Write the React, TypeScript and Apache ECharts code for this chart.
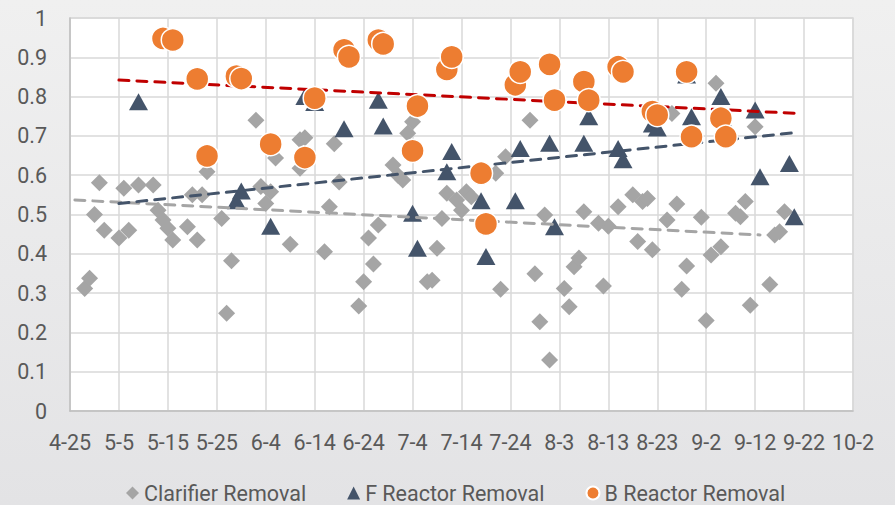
import React, { useEffect, useRef } from "react";
import * as echarts from "echarts";

// X-axis tick labels (every 10 days starting 4-25)
const tickLabels = ["4-25", "5-5", "5-15", "5-25", "6-4", "6-14", "6-24", "7-4", "7-14", "7-24", "8-3", "8-13", "8-23", "9-2", "9-12", "9-22", "10-2"];

const clarifierDates = [
  "4-28", "4-29", "4-30", "5-1", "5-2", "5-5", "5-6", "5-7", "5-9", "5-12",
  "5-13", "5-14", "5-15", "5-16", "5-19", "5-20", "5-21", "5-22", "5-23", "5-26",
  "5-27", "5-28", "6-2", "6-3", "6-4", "6-5", "6-6", "6-9", "6-11", "6-11",
  "6-12", "6-16", "6-17", "6-18", "6-19", "6-23", "6-24", "6-25", "6-26", "6-27",
  "6-30", "7-1", "7-2", "7-3", "7-4", "7-7", "7-8", "7-9", "7-10", "7-11",
  "7-14", "7-13", "7-15", "7-16", "7-21", "7-22", "7-23", "7-28", "7-29", "7-30",
  "7-31", "8-1", "8-4", "8-5", "8-6", "8-7", "8-8", "8-11", "8-12", "8-13",
  "8-15", "8-18", "8-19", "8-20", "8-21", "8-22", "8-25", "8-26", "8-27", "8-28",
  "8-29", "9-1", "9-2", "9-3", "9-4", "9-5", "9-8", "9-9", "9-10", "9-11",
  "9-12", "9-15", "9-16", "9-17", "9-18"
];
const clarifierValues = [
  0.312, 0.338, 0.50, 0.581, 0.46, 0.44, 0.567, 0.46, 0.575, 0.575,
  0.511, 0.486, 0.465, 0.435, 0.469, 0.55, 0.435, 0.55, 0.609, 0.49,
  0.249, 0.382, 0.74, 0.571, 0.528, 0.558, 0.644, 0.424, 0.618, 0.69,
  0.695, 0.405, 0.52, 0.68, 0.583, 0.267, 0.329, 0.44, 0.374, 0.473,
  0.626, 0.60, 0.588, 0.707, 0.736, 0.329, 0.333, 0.414, 0.49, 0.554,
  0.511, 0.537, 0.558, 0.545, 0.605, 0.31, 0.647, 0.74, 0.349, 0.227,
  0.499, 0.13, 0.312, 0.265, 0.367, 0.389, 0.507, 0.478, 0.318, 0.47,
  0.52, 0.55, 0.431, 0.533, 0.541, 0.41, 0.486, 0.757, 0.527, 0.31,
  0.369, 0.493, 0.23, 0.397, 0.834, 0.418, 0.503, 0.494, 0.533, 0.269,
  0.723, 0.322, 0.448, 0.456, 0.507
];

const fReactorDates = [
  "5-9", "5-29", "5-30", "6-5", "6-12", "6-14", "6-20", "6-27", "6-28", "7-4",
  "7-5", "7-11", "7-12", "7-18", "7-19", "7-25", "7-26", "8-1", "8-2", "8-8",
  "8-9", "8-15", "8-16", "8-22", "8-23", "8-29", "8-30", "9-5", "9-6", "9-12",
  "9-13", "9-19", "9-20"
];
const fReactorValues = [
  0.787, 0.535, 0.56, 0.47, 0.80, 0.785, 0.718, 0.791, 0.725, 0.503,
  0.414, 0.609, 0.66, 0.535, 0.393, 0.535, 0.668, 0.681, 0.469, 0.681,
  0.749, 0.668, 0.639, 0.73, 0.72, 0.855, 0.749, 0.80, 0.73, 0.766,
  0.596, 0.63, 0.494
];

const bReactorDates = [
  "5-14", "5-16", "5-21", "5-23", "5-29", "5-30", "6-5", "6-12", "6-14", "6-20",
  "6-21", "6-27", "6-28", "7-4", "7-5", "7-11", "7-12", "7-18", "7-19", "7-25",
  "7-26", "8-1", "8-2", "8-8", "8-9", "8-15", "8-16", "8-22", "8-23", "8-29",
  "8-30", "9-5", "9-6"
];
const bReactorValues = [
  0.948, 0.944, 0.845, 0.649, 0.852, 0.846, 0.679, 0.645, 0.796, 0.919,
  0.901, 0.944, 0.934, 0.662, 0.776, 0.869, 0.901, 0.605, 0.476, 0.83,
  0.863, 0.882, 0.791, 0.838, 0.791, 0.876, 0.863, 0.762, 0.753, 0.863,
  0.698, 0.745, 0.698
];

// Linear trendline end points
const clarifierTrendDates = ["4-26", "9-13"];
const clarifierTrendValues = [0.537, 0.448];
const fTrendDates = ["5-5", "9-20"];
const fTrendValues = [0.528, 0.708];
const bTrendDates = ["5-5", "9-21"];
const bTrendValues = [0.842, 0.757];

const START = Date.UTC(2021, 3, 25);
function dayIndex(md: string): number {
  const [m, d] = md.split("-").map(Number);
  return Math.round((Date.UTC(2021, m - 1, d) - START) / 86400000);
}
function pairs(dates: string[], values: number[]) {
  return dates.map((d, i) => [dayIndex(d), values[i]]);
}

const FONT = "Roboto";
const TEXT = "#595959";
const FS = 21.5;

export default function App() {
  const ref = useRef<HTMLDivElement>(null);
  useEffect(() => {
    if (!ref.current) return;
    const chart = echarts.init(ref.current, null, { renderer: "svg" });
    const trend = (name: string, dates: string[], values: number[], color: string) => ({
      name,
      type: "line",
      data: pairs(dates, values),
      symbol: "none",
      silent: true,
      lineStyle: { color, width: 3, type: [10, 8], cap: "round" },
      z: 3,
    });
    chart.setOption({
      animation: false,
      backgroundColor: {
        type: "linear", x: 0, y: 0, x2: 0, y2: 1,
        colorStops: [
          { offset: 0, color: "#f0f0f0" },
          { offset: 1, color: "#e3e3e5" },
        ],
      },
      textStyle: { fontFamily: FONT },
      grid: {
        left: 70, right: 42, top: 18, bottom: 94,
        show: true, backgroundColor: "#ffffff", borderColor: "#d9d9d9", borderWidth: 1.5,
      },
      legend: {
        left: 121, top: 477,
        itemWidth: 13, itemHeight: 13, itemGap: 41,
        textStyle: { color: TEXT, fontSize: FS, fontFamily: FONT },
        data: ["Clarifier Removal", "F Reactor Removal", "B Reactor Removal"],
      },
      xAxis: {
        type: "value", min: 0, max: 160, interval: 10,
        axisLine: { show: true, lineStyle: { color: "#bfbfbf", width: 1.5 } },
        axisTick: { show: false },
        splitLine: { show: true, lineStyle: { color: "#d9d9d9", width: 1.5 } },
        axisLabel: {
          color: TEXT, fontSize: FS, fontFamily: FONT, margin: 20,
          formatter: (v: number) => tickLabels[Math.round(v / 10)] ?? "",
        },
      },
      yAxis: {
        type: "value", min: 0, max: 1, interval: 0.1,
        axisLine: { show: true, lineStyle: { color: "#bfbfbf", width: 1.5 } },
        axisTick: { show: false },
        splitLine: { show: true, lineStyle: { color: "#d9d9d9", width: 1.5 } },
        axisLabel: {
          color: TEXT, fontSize: FS, fontFamily: FONT, margin: 23,
          formatter: (v: number) => String(parseFloat(v.toFixed(1))),
        },
      },
      series: [
        {
          name: "Clarifier Removal", type: "scatter", symbol: "diamond", symbolSize: 17,
          itemStyle: { color: "#a5a5a5", opacity: 1 },
          data: pairs(clarifierDates, clarifierValues), z: 2,
        },
        {
          name: "F Reactor Removal", type: "scatter", symbol: "triangle", symbolSize: [19, 17],
          itemStyle: { color: "#44546a", opacity: 1 },
          data: pairs(fReactorDates, fReactorValues), z: 2,
        },
        trend("Clarifier trend", clarifierTrendDates, clarifierTrendValues, "#a5a5a5"),
        trend("F trend", fTrendDates, fTrendValues, "#44546a"),
        trend("B trend", bTrendDates, bTrendValues, "#c00000"),
        {
          name: "B Reactor Removal", type: "scatter", symbol: "circle", symbolSize: 23,
          itemStyle: { color: "#ed7d31", borderColor: "#ffffff", borderWidth: 1.5, opacity: 1 },
          data: pairs(bReactorDates, bReactorValues), z: 4,
        },
      ],
    });
    return () => chart.dispose();
  }, []);
  return (
    <div
      ref={ref}
      style={{ position: "fixed", left: 0, top: 0, width: 895, height: 505 }}
    />
  );
}
